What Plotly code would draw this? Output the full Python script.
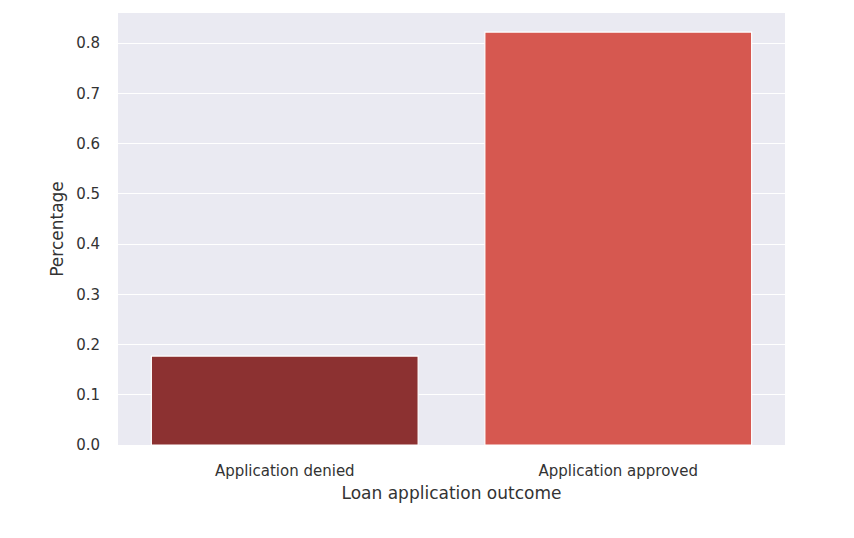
import plotly.graph_objects as go

outcomes = ["Application denied", "Application approved"]
share = [0.177, 0.822]
bar_colors = ["#8c3131", "#d65850"]
y_ticks = [0.0, 0.1, 0.2, 0.3, 0.4, 0.5, 0.6, 0.7, 0.8]

fig = go.Figure(go.Bar(
    x=outcomes, y=share, width=0.8,
    marker=dict(color=bar_colors, line=dict(color="white", width=1.2)),
))

# page body adds ~8px offset, so margins are shifted accordingly
fig.update_layout(
    width=854, height=538,
    margin=dict(l=110, r=77, t=5, b=101),
    paper_bgcolor="white", plot_bgcolor="#eaeaf2",
    font=dict(family="DejaVu Sans", size=15, color="#333333"),
    showlegend=False,
    bargap=0.2,
)
fig.update_xaxes(
    title=dict(text="Loan application outcome", font=dict(size=17), standoff=8),
    showgrid=False, tickfont=dict(size=15),
    ticks="outside", ticklen=12, tickcolor="rgba(0,0,0,0)",
)
fig.update_yaxes(
    title=dict(text="Percentage", font=dict(size=17), standoff=8),
    range=[0, 0.86], tickvals=y_ticks, tickformat=".1f",
    gridcolor="white", gridwidth=1.2, zeroline=False, tickfont=dict(size=15),
    ticks="outside", ticklen=14, tickcolor="rgba(0,0,0,0)",
)

fig.write_html("out.html")
